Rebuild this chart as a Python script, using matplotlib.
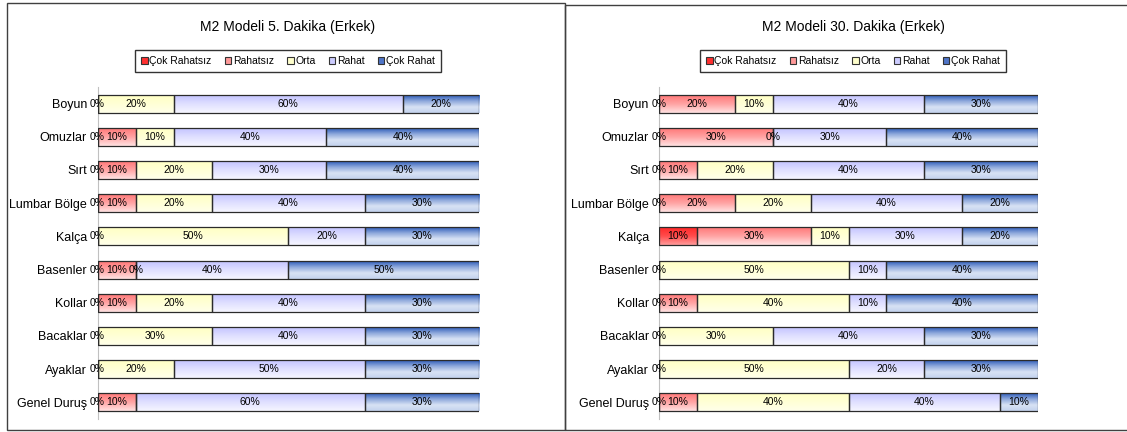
import numpy as np
import matplotlib
matplotlib.use("Agg")
import matplotlib.pyplot as plt
from matplotlib.patches import Patch, Rectangle
from matplotlib.colors import LinearSegmentedColormap

nan = np.nan

# kategoriler (yukaridan asagiya)
bolgeler = ["Boyun", "Omuzlar", "Sırt", "Lumbar Bölge", "Kalça", "Basenler",
            "Kollar", "Bacaklar", "Ayaklar", "Genel Duruş"]
seviyeler = ["Çok Rahatsız", "Rahatsız", "Orta", "Rahat", "Çok Rahat"]

# 5. dakika (yuzde), nan = etiketsiz
cok_rahatsiz_5 = [0, 0, 0, 0, 0, 0, 0, 0, 0, 0]
rahatsiz_5 = [nan, 10, 10, 10, nan, 10, 10, nan, nan, 10]
orta_5 = [20, 10, 20, 20, 50, 0, 20, 30, 20, nan]
rahat_5 = [60, 40, 30, 40, 20, 40, 40, 40, 50, 60]
cok_rahat_5 = [20, 40, 40, 30, 30, 50, 30, 30, 30, 30]

# 30. dakika
cok_rahatsiz_30 = [0, 0, 0, 0, 10, 0, 0, 0, 0, 0]
rahatsiz_30 = [20, 30, 10, 20, 30, nan, 10, nan, nan, 10]
orta_30 = [10, 0, 20, 20, 10, 50, 40, 30, 50, 40]
rahat_30 = [40, 30, 40, 40, 30, 10, 10, 40, 20, 40]
cok_rahat_30 = [30, 40, 30, 20, 20, 40, 40, 30, 30, 10]

# renk gecisleri (alttan uste)
gradyanlar = [
    ["#FF9C9C", "#FF4C4C", "#FF2828"],
    ["#FFE2E2", "#FFA4A4", "#FF7878"],
    ["#FFFFEA", "#FFFFD6", "#FFFFC4"],
    ["#F6F6FF", "#E0E0FF", "#C4C4FF"],
    ["#C4D3EE", "#D8E2F4", "#8FA9DC", "#2E5CB8"],
]
legend_renk = ["#FF3030", "#FF9999", "#FFFFCC", "#CCCCFF", "#4F75C8"]

plt.rcParams["font.family"] = ["Liberation Sans", "DejaVu Sans"]

W, H = 1127, 432
fig = plt.figure(figsize=(W / 100, H / 100), dpi=100)

# cerceveler
fig.add_artist(Rectangle((7 / W, 1 - 430 / H), 558 / W, 427 / H, transform=fig.transFigure,
                         fill=False, edgecolor="#404040", lw=1))
fig.add_artist(Rectangle((565 / W, 1 - 430 / H), 600 / W, 425 / H, transform=fig.transFigure,
                         fill=False, edgecolor="#404040", lw=1))


def ciz(ax, veri, baslik, cx):
    n = len(bolgeler)
    ypos = np.arange(n)[::-1]
    h = 0.54
    sol = np.zeros(n)
    for k, seri in enumerate(veri):
        vals = np.array(seri, dtype=float)
        w = np.nan_to_num(vals) / 100
        cmap = LinearSegmentedColormap.from_list("g%d" % k, gradyanlar[k])
        grad = np.linspace(0, 1, 64).reshape(-1, 1)
        for i in range(n):
            if w[i] > 0:
                ax.imshow(grad, cmap=cmap, aspect="auto", origin="lower",
                          extent=[sol[i], sol[i] + w[i], ypos[i] - h / 2, ypos[i] + h / 2],
                          interpolation="bilinear", zorder=2)
        ax.barh(ypos, w, left=sol, height=h, fill=False, edgecolor="#2b2b2b", lw=0.9, zorder=3)
        for i in range(n):
            if not np.isnan(vals[i]):
                ax.text(sol[i] + w[i] / 2, ypos[i], "%d%%" % vals[i], ha="center", va="center",
                        fontsize=7.5, zorder=4)
        sol = sol + w
    ax.set_xlim(0, 1)
    ax.set_ylim(-0.5, n - 0.5)
    ax.set_yticks(ypos)
    ax.set_yticklabels(bolgeler, fontsize=9)
    ax.set_xticks([])
    ax.tick_params(axis="y", length=0, pad=7.5)
    for s in ["top", "right", "bottom"]:
        ax.spines[s].set_visible(False)
    ax.spines["left"].set_color("#C0C0C0")
    ax.patch.set_visible(False)

    fig.text(cx / W, 1 - 27 / H, baslik, ha="center", va="center", fontsize=10)
    handles = [Patch(facecolor=legend_renk[k], edgecolor="#333333", lw=0.8, label=seviyeler[k])
               for k in range(5)]
    fig.legend(handles=handles, loc="center", bbox_to_anchor=(cx / W, 1 - 61 / H), ncol=5,
               fontsize=7.5, handlelength=0.6, handleheight=0.6, handletextpad=0.15,
               columnspacing=1.3, fancybox=False, edgecolor="#333333", framealpha=1,
               borderpad=0.6)


ax1 = fig.add_axes([97.5 / W, 13 / H, 381.5 / W, 332 / H])
ciz(ax1, [cok_rahatsiz_5, rahatsiz_5, orta_5, rahat_5, cok_rahat_5],
    "M2 Modeli 5. Dakika (Erkek)", 288)

ax2 = fig.add_axes([659.2 / W, 13 / H, 378.8 / W, 332 / H])
ciz(ax2, [cok_rahatsiz_30, rahatsiz_30, orta_30, rahat_30, cok_rahat_30],
    "M2 Modeli 30. Dakika (Erkek)", 853)

fig.savefig("out.png", dpi=100)
